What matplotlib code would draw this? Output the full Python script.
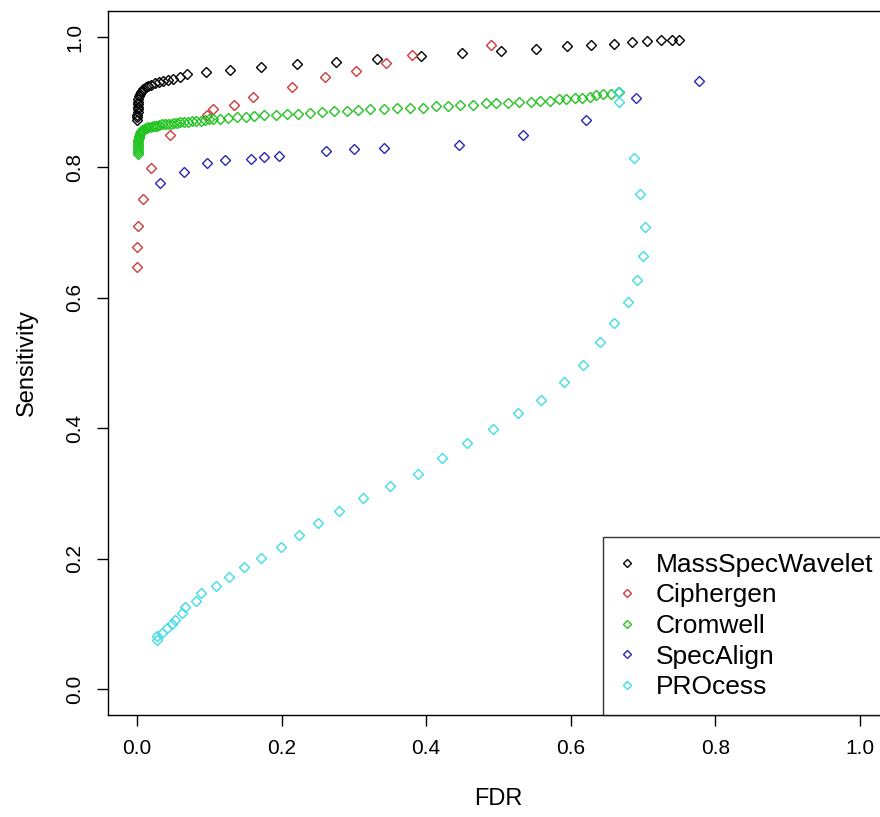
import matplotlib
matplotlib.use("Agg")
import matplotlib.pyplot as plt

plt.rcParams['font.family'] = ['Liberation Sans', 'DejaVu Sans']

# ---- data ----
series_names = ["MassSpecWavelet", "Ciphergen", "Cromwell", "SpecAlign", "PROcess"]
series_colors = ["#000000", "#D03A3A", "#22C422", "#2828B4", "#40DDE6"]

msw_fdr = [0.000, 0.000, 0.000, 0.001, 0.001, 0.001, 0.001, 0.002, 0.002, 0.003,
           0.004, 0.005, 0.007, 0.009, 0.012, 0.016, 0.020, 0.025, 0.030, 0.036,
           0.043, 0.050, 0.059, 0.069, 0.095, 0.129, 0.171, 0.221, 0.275, 0.332,
           0.393, 0.450, 0.503, 0.552, 0.595, 0.628, 0.660, 0.685, 0.705, 0.725,
           0.740, 0.750]
msw_sens = [0.873, 0.877, 0.881, 0.885, 0.889, 0.893, 0.897, 0.901, 0.905, 0.909,
            0.912, 0.915, 0.918, 0.920, 0.923, 0.925, 0.927, 0.929, 0.931, 0.933,
            0.934, 0.936, 0.939, 0.943, 0.946, 0.949, 0.954, 0.958, 0.962, 0.966,
            0.971, 0.975, 0.979, 0.982, 0.986, 0.988, 0.989, 0.992, 0.994, 0.996,
            0.996, 0.996]

cip_fdr = [0.000, 0.000, 0.001, 0.008, 0.019, 0.046, 0.097, 0.105, 0.134, 0.160,
           0.214, 0.260, 0.303, 0.344, 0.380, 0.490]
cip_sens = [0.647, 0.678, 0.710, 0.751, 0.799, 0.850, 0.880, 0.890, 0.896, 0.908,
            0.923, 0.939, 0.948, 0.960, 0.972, 0.988]

crom_fdr = [0.002, 0.002, 0.002, 0.002, 0.002, 0.002, 0.002, 0.002, 0.003, 0.003,
            0.003, 0.004, 0.004, 0.005, 0.006, 0.007, 0.008, 0.010, 0.012, 0.014,
            0.016, 0.019, 0.022, 0.025, 0.028, 0.031, 0.035, 0.039, 0.043, 0.047,
            0.051, 0.055, 0.060, 0.065, 0.070, 0.076, 0.082, 0.088, 0.094, 0.100,
            0.1055, 0.1148, 0.1263, 0.1379, 0.1503, 0.1622, 0.1761, 0.1918, 0.2071,
            0.2223, 0.2393, 0.2555, 0.2729, 0.2901, 0.3053, 0.3223, 0.3416, 0.3592,
            0.378, 0.396, 0.413, 0.430, 0.447, 0.465, 0.483, 0.497, 0.513, 0.529,
            0.545, 0.558, 0.571, 0.583, 0.594, 0.606, 0.616, 0.626, 0.635, 0.645,
            0.655, 0.667]
crom_sens = [0.821, 0.824, 0.827, 0.830, 0.833, 0.836, 0.839, 0.842, 0.845, 0.847,
             0.849, 0.851, 0.853, 0.855, 0.856, 0.857, 0.858, 0.859, 0.860, 0.861,
             0.862, 0.862, 0.863, 0.864, 0.864, 0.865, 0.866, 0.866, 0.867, 0.867,
             0.868, 0.868, 0.869, 0.870, 0.870, 0.871, 0.872, 0.872, 0.873, 0.874,
             0.8747, 0.8747, 0.8758, 0.8768, 0.8778, 0.8788, 0.8804, 0.8808, 0.8814,
             0.8824, 0.8834, 0.8850, 0.8860, 0.8870, 0.8876, 0.8891, 0.8900, 0.8916,
             0.8916, 0.8916, 0.8937, 0.8937, 0.8957, 0.8957, 0.8983, 0.8983, 0.8983, 0.9003,
             0.9003, 0.9023, 0.9023, 0.9045, 0.9045, 0.9064, 0.9064, 0.9084, 0.9106, 0.9126,
             0.9126, 0.9152]

spa_fdr = [0.032, 0.065, 0.097, 0.122, 0.158, 0.176, 0.196, 0.261, 0.300, 0.342,
           0.445, 0.534, 0.621, 0.690, 0.777]
spa_sens = [0.776, 0.793, 0.807, 0.811, 0.813, 0.816, 0.817, 0.825, 0.828, 0.830,
            0.834, 0.850, 0.873, 0.906, 0.932]

pro_fdr = [0.028, 0.028, 0.035, 0.041, 0.048, 0.053, 0.063, 0.066, 0.082, 0.089,
           0.109, 0.128, 0.148, 0.172, 0.199, 0.224, 0.251, 0.280, 0.313, 0.350,
           0.388, 0.422, 0.456, 0.492, 0.527, 0.559, 0.591, 0.617, 0.640, 0.660,
           0.679, 0.692, 0.700, 0.702, 0.696, 0.687, 0.667, 0.665]
pro_sens = [0.075, 0.081, 0.086, 0.093, 0.099, 0.106, 0.117, 0.125, 0.135, 0.147,
            0.158, 0.172, 0.187, 0.201, 0.217, 0.236, 0.255, 0.273, 0.293, 0.312,
            0.329, 0.355, 0.378, 0.399, 0.423, 0.444, 0.471, 0.497, 0.532, 0.561,
            0.594, 0.627, 0.664, 0.709, 0.760, 0.815, 0.900, 0.915]

x_ticks = [0.0, 0.2, 0.4, 0.6, 0.8, 1.0]
y_ticks = [0.0, 0.2, 0.4, 0.6, 0.8, 1.0]
x_label = "FDR"
y_label = "Sensitivity"

# ---- figure ----
W, H = 880, 817
fig = plt.figure(figsize=(W / 100, H / 100), dpi=100)
left_px, right_px, top_px, bottom_px = 108, 889, 11, 715
ax = fig.add_axes([left_px / W, 1 - bottom_px / H,
                   (right_px - left_px) / W, (bottom_px - top_px) / H])

xs = [msw_fdr, cip_fdr, crom_fdr, spa_fdr, pro_fdr]
ys = [msw_sens, cip_sens, crom_sens, spa_sens, pro_sens]
for x, y, name, c in zip(xs, ys, series_names, series_colors):
    ax.plot(x, y, linestyle='none', marker='D', markersize=5.0,
            markerfacecolor='none', markeredgecolor=c, markeredgewidth=1.0,
            label=name)

ax.set_xlim(-0.04, 1.04)
ax.set_ylim(-0.04, 1.04)
ax.set_xticks(x_ticks)
ax.set_yticks(y_ticks)
ax.set_xticklabels([f"{v:.1f}" for v in x_ticks])
ax.set_yticklabels([f"{v:.1f}" for v in y_ticks], rotation=90, va='center')
ax.tick_params(axis='both', direction='out', length=8, width=1,
               labelsize=15, colors='black', pad=9)
ax.tick_params(axis='y', pad=9)
for s in ax.spines.values():
    s.set_linewidth(1.0)
    s.set_color('black')

ax.set_xlabel(x_label, fontsize=17, labelpad=22)
ax.set_ylabel(y_label, fontsize=17, labelpad=20)

leg = ax.legend(loc='lower right', fontsize=19,
                frameon=True, fancybox=False, edgecolor='black',
                handlelength=0.6, handletextpad=0.8, labelspacing=0.25,
                borderpad=0.6, borderaxespad=0, markerscale=0.85)
leg.get_frame().set_linewidth(1.0)

fig.savefig("out.png", dpi=100)
